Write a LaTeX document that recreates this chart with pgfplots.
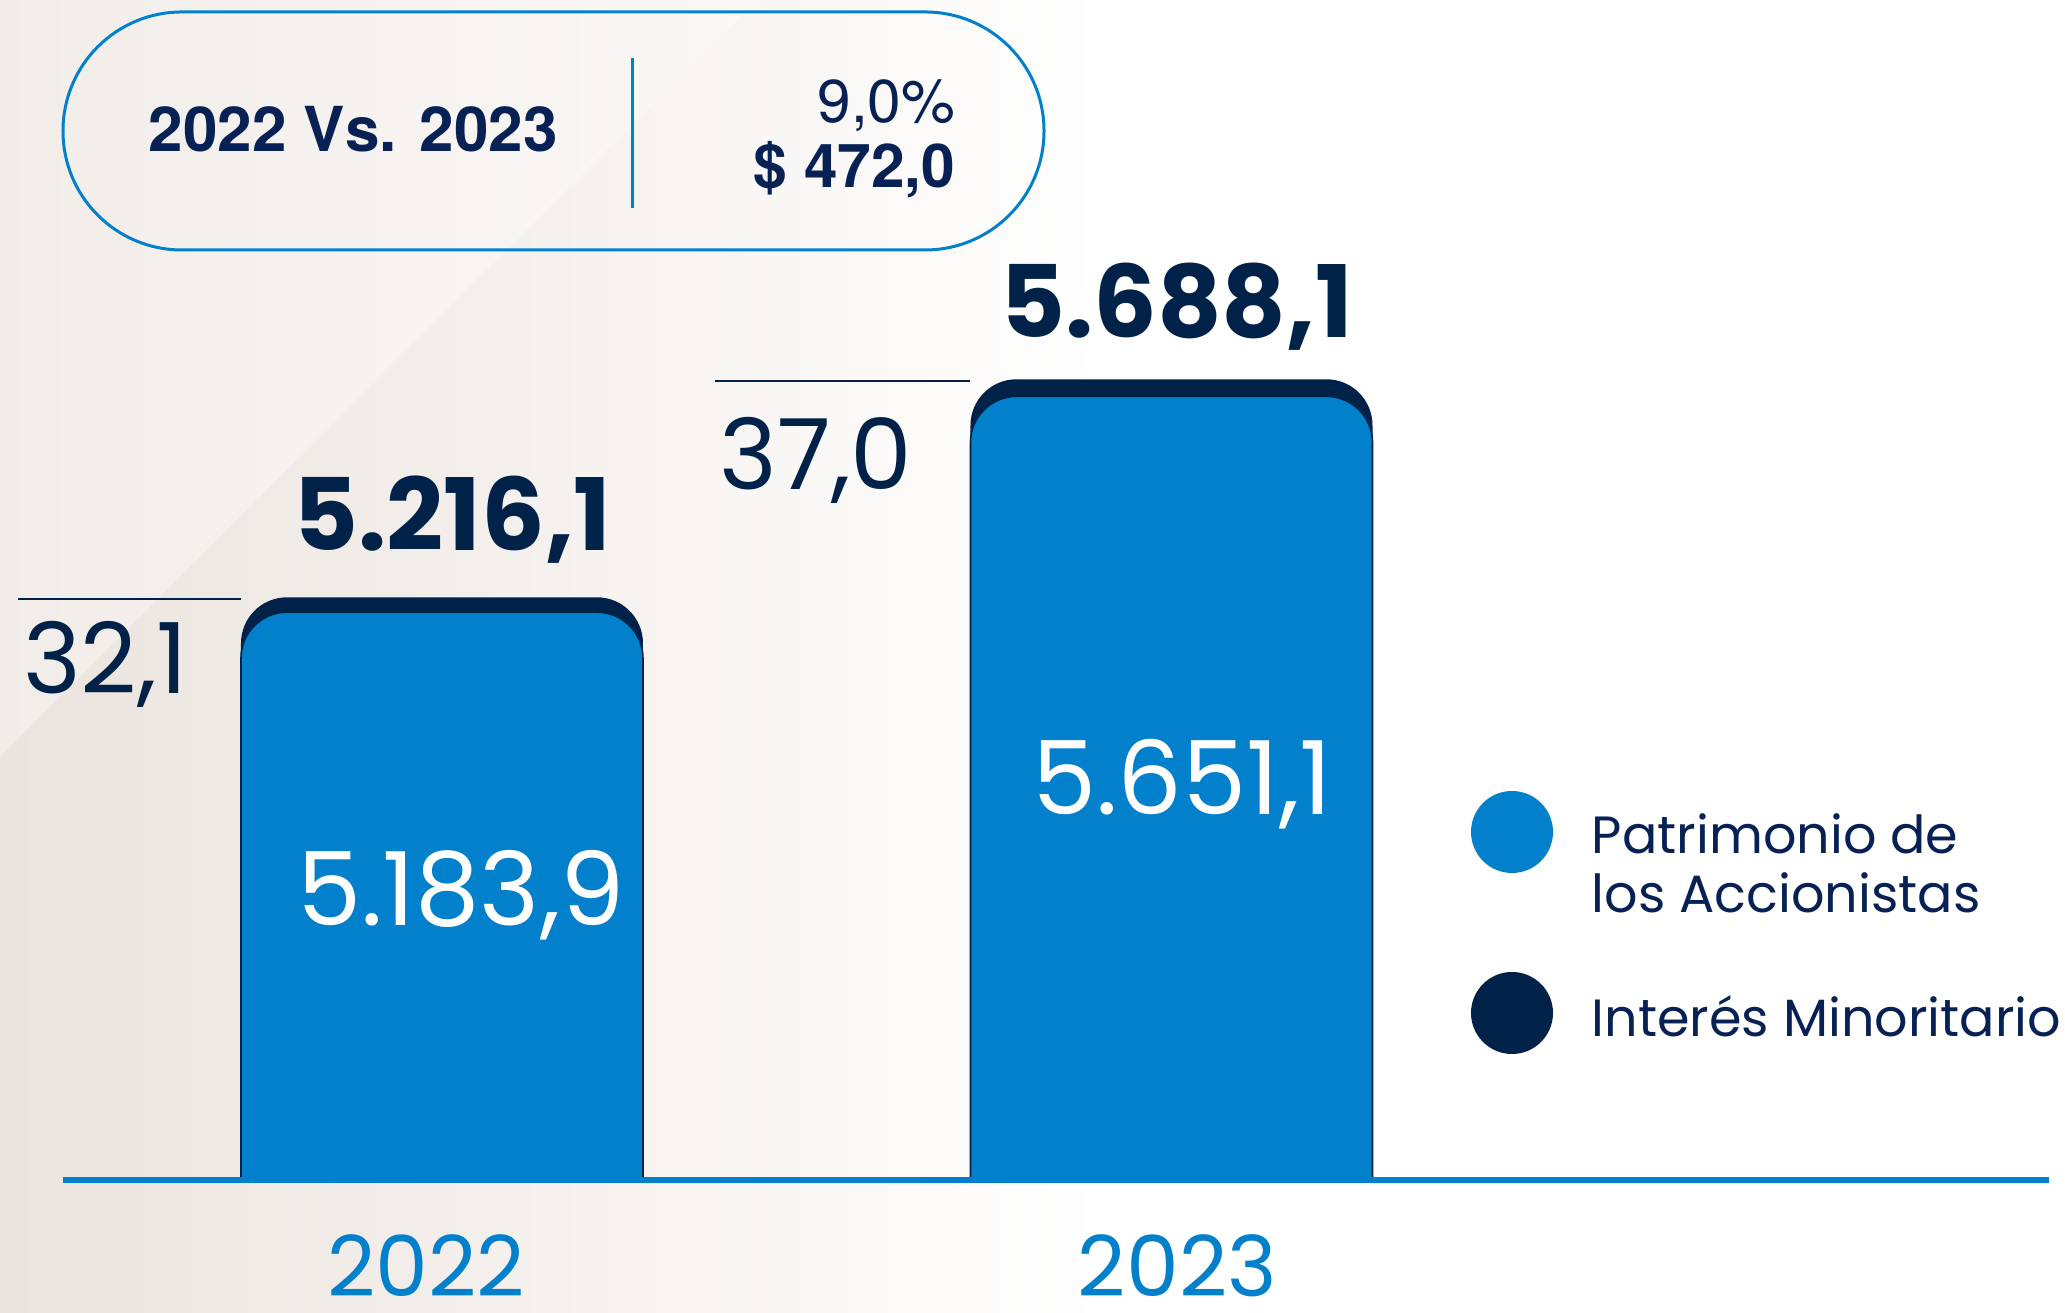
\documentclass[border=0pt]{standalone}
\usepackage{pgfplots}
\pgfplotsset{compat=1.18}
\usepackage{pgfplotstable}
\usepackage{fontspec}
\setmainfont{Poppins}
\newfontfamily\heros{TeX Gyre Heros}
\definecolor{barblue}{RGB}{2,128,204}
\definecolor{navy}{RGB}{0,34,72}
\definecolor{txtnavy}{RGB}{8,33,85}
\definecolor{beige}{RGB}{235,227,221}

\pgfplotstableread{
x total patrimonio
0 5216.1 5183.9
1 5688.1 5651.1
}\datatable

\pgfplotsset{base/.style={
    scale only axis,
    width=496.5pt,
    xmin=-0.5195, xmax=2.2029,
    axis line style={draw=none},
    major tick length=0pt,
    ytick=\empty,
}}

\begin{document}
\begin{tikzpicture}[x=1pt,y=1pt]
\path[use as bounding box] (-15.75,-33.5) rectangle (500.5,294.75);
% background
\shade[left color=beige, right color=white] (-15.75,-33.5) rectangle (260,294.75);
\fill[white] (259.9,-33.5) rectangle (500.5,294.75);
\fill[white, opacity=0.35] (-15.75,105.5) -- (173.5,294.75) -- (-15.75,294.75) -- cycle;

% bars, cut at the baseline
\begin{scope}
\clip (-15.75,0) rectangle (500.5,294.75);
\begin{axis}[base,
    at={(0,-16.5)}, anchor=south west,
    height=314.75pt,
    ymin=3791.8, ymax=6517.5,
    xtick=\empty,
]
\addplot[ybar, bar width=100.5pt, fill=navy, draw=none, rounded corners=11.5pt]
    table[x=x, y=total] {\datatable};
\addplot[ybar, bar width=100.5pt, fill=barblue, draw=navy, line width=0.4pt, rounded corners=11.5pt]
    table[x=x, y=patrimonio] {\datatable};
\end{axis}
\end{scope}

% year labels
\begin{axis}[base,
    at={(0,0)}, anchor=south west,
    height=294.75pt,
    ymin=3965, ymax=6517.5,
    xtick={-0.0219,1.0081},
    xticklabels={2022,2023},
    xticklabel style={font=\fontsize{21}{25}\selectfont, text=barblue, anchor=base, inner sep=0pt, text depth=0pt, yshift=-29.5pt},
]
\end{axis}

% baseline
\draw[barblue, line width=1.5pt] (0,-0.25) -- (496.5,-0.25);

% leader lines
\draw[navy, line width=0.5pt] (-11.25,145) -- (44.5,145);
\draw[navy, line width=0.5pt] (163,199.5) -- (226.75,199.5);

% value labels
\node[anchor=base, inner sep=0, text=navy, font=\fontsize{25}{30}\selectfont\bfseries] at (97.35,157.1) {5.216,1};
\node[anchor=base, inner sep=0, text=navy, font=\fontsize{25}{30}\selectfont\bfseries] at (278.4,210.45) {5.688,1};
\node[anchor=base west, inner sep=0, text=navy, font=\fontsize{24.5}{29}\selectfont] at (-10.15,121.25) {32,1};
\node[anchor=base west, inner sep=0, text=navy, font=\fontsize{24.5}{29}\selectfont] at (164,172.25) {37,0};
\node[anchor=base, inner sep=0, text=white, font=\fontsize{25.5}{31}\selectfont] at (99.5,63.25) {5.183,9};
\node[anchor=base, inner sep=0, text=white, font=\fontsize{25.5}{31}\selectfont] at (279.75,91) {5.651,1};

% summary pill
\draw[barblue, line width=0.75pt, rounded corners=29.7pt] (0,232.25) rectangle (245.25,291.75);
\draw[barblue, line width=0.75pt] (142.25,242.75) -- (142.25,280.25);
\node[anchor=base west, inner sep=0, text=txtnavy, font=\heros\fontsize{15.5}{19}\selectfont\bfseries] at (21.25,256.9) {2022 Vs. 2023};
\node[anchor=base east, inner sep=0, text=txtnavy, font=\heros\fontsize{15.1}{18}\selectfont] at (223.25,264.1) {9,0\%};
\node[anchor=base east, inner sep=0, text=txtnavy, font=\heros\fontsize{15.1}{18}\selectfont\bfseries] at (223.25,247.75) {\$ 472,0};

% legend
\fill[barblue] (362.25,86.75) circle (10.25);
\fill[navy] (362.25,41.5) circle (10.25);
\node[anchor=base west, inner sep=0, text=txtnavy, font=\fontsize{13.1}{14.8}\selectfont] at (382,81.4) {Patrimonio de};
\node[anchor=base west, inner sep=0, text=txtnavy, font=\fontsize{13.1}{14.8}\selectfont] at (382,66.6) {los Accionistas};
\node[anchor=base west, inner sep=0, text=txtnavy, font=\fontsize{13.1}{14.8}\selectfont] at (382,35.6) {Interés Minoritario};
\end{tikzpicture}
\end{document}
